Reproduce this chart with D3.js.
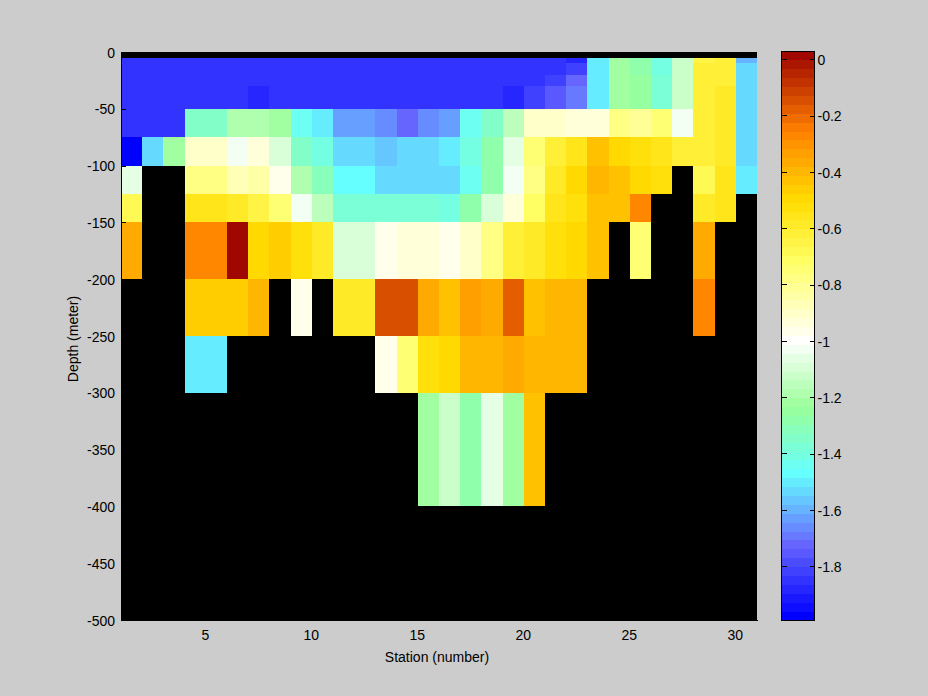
<!DOCTYPE html>
<html><head><meta charset="utf-8">
<script src="https://cdnjs.cloudflare.com/ajax/libs/d3/7.8.5/d3.min.js"></script>
<style>
html,body{margin:0;padding:0;background:#ccc;overflow:hidden}
text{font-family:"Liberation Sans",Arial,sans-serif;font-size:14px;fill:#000}
</style></head><body><svg id="c" width="928" height="696"></svg>
<script>
const N = null;
const depthEdges = [0,5,10,20,30,50,75,100,125,150,200,250,300,400,500];
const stationEdges = d3.range(1,32);
const depthTicks = d3.range(-500,1,50);
const stationTicks = [5,10,15,20,25,30];
const cbarTicks = [0,-0.2,-0.4,-0.6,-0.8,-1,-1.2,-1.4,-1.6,-1.8];
const cLimits = [-1.99,0.03];
const cLevels = 64;
const cStops = [-1.974,-1.721,-1.47,-1.235,-1.0,-0.72,-0.5,-0.25,0.03];
const cColors = ["#0000ff","#6666ff","#66ffff","#99ff99","#ffffff","#ffff66","#ffdc00","#ff8000","#990000"];

const row0 = Array(30).fill(N);
const row5 = [-1.85,-1.85,-1.85,-1.85,-1.85,-1.85,-1.85,-1.85,-1.85,-1.85,-1.85,-1.85,-1.85,-1.85,-1.85,-1.85,-1.85,-1.85,-1.85,-1.85,-1.85,-1.88,-1.49,-1.23,-1.28,-1.41,-1.12,-0.66,-0.63,-1.58];
const row10 = [-1.85,-1.85,-1.85,-1.85,-1.85,-1.85,-1.85,-1.85,-1.85,-1.85,-1.85,-1.85,-1.85,-1.85,-1.85,-1.85,-1.85,-1.85,-1.85,-1.85,-1.85,-1.81,-1.49,-1.22,-1.27,-1.41,-1.12,-0.63,-0.62,-1.53];
const row20 = [-1.85,-1.85,-1.85,-1.85,-1.85,-1.85,-1.85,-1.85,-1.85,-1.85,-1.85,-1.85,-1.85,-1.85,-1.85,-1.85,-1.85,-1.85,-1.85,-1.85,-1.81,-1.72,-1.49,-1.22,-1.25,-1.39,-1.12,-0.63,-0.62,-1.53];
const row30 = [-1.85,-1.85,-1.85,-1.85,-1.85,-1.85,-1.88,-1.85,-1.85,-1.85,-1.85,-1.85,-1.85,-1.85,-1.85,-1.85,-1.85,-1.85,-1.88,-1.81,-1.75,-1.68,-1.49,-1.22,-1.25,-1.39,-1.12,-0.63,-0.6,-1.53];
const row50 = [-1.85,-1.85,-1.85,-1.33,-1.33,-1.17,-1.17,-1.23,-1.43,-1.49,-1.63,-1.63,-1.66,-1.71,-1.66,-1.63,-1.44,-1.34,-1.16,-0.9,-0.9,-0.93,-0.93,-0.77,-0.8,-0.74,-1.02,-0.62,-0.6,-1.53];
const row75 = [-1.98,-1.53,-1.23,-0.89,-0.89,-1.02,-0.92,-1.1,-1.33,-1.41,-1.53,-1.53,-1.57,-1.53,-1.53,-1.49,-1.41,-1.27,-1.06,-0.73,-0.61,-0.54,-0.43,-0.48,-0.51,-0.55,-0.63,-0.63,-0.58,-1.53];
const row100 = [-1.06,N,N,-0.77,-0.77,-0.87,-0.84,-0.98,-1.18,-1.3,-1.47,-1.47,-1.53,-1.53,-1.53,-1.53,-1.44,-1.27,-1.04,-0.77,-0.6,-0.5,-0.39,-0.43,-0.48,-0.51,N,-0.67,-0.54,-1.49];
const row125 = [-0.67,N,N,-0.56,-0.56,-0.6,-0.66,-0.75,-1.02,-1.16,-1.39,-1.39,-1.39,-1.39,-1.36,-1.42,-1.27,-1.1,-0.93,-0.7,-0.55,-0.51,-0.44,-0.44,-0.28,N,N,-0.57,-0.54,N];
const row150 = [-0.36,N,N,-0.28,-0.28,0.02,-0.5,-0.47,-0.52,-0.57,-1.1,-1.1,-0.96,-0.92,-0.92,-0.98,-0.91,-0.79,-0.61,-0.58,-0.51,-0.48,-0.44,N,-0.74,N,N,-0.36,N,N];
const row200 = [N,N,N,-0.47,-0.47,-0.47,-0.39,N,-0.96,N,-0.59,-0.59,-0.13,-0.13,-0.37,-0.43,-0.32,-0.35,-0.17,-0.44,-0.39,-0.39,N,N,N,N,N,-0.28,N,N];
const row250 = [N,N,N,-1.49,-1.49,N,N,N,N,N,N,N,-0.97,-0.74,-0.51,-0.48,-0.39,-0.39,-0.36,-0.39,-0.39,-0.39,N,N,N,N,N,N,N,N];
const row300 = [N,N,N,N,N,N,N,N,N,N,N,N,N,N,-1.23,-1.12,-1.27,-1.06,-1.22,-0.44,N,N,N,N,N,N,N,N,N,N];
const row400 = Array(30).fill(N);
const rows = [row0,row5,row10,row20,row30,row50,row75,row100,row125,row150,row200,row250,row300,row400];

const svg = d3.select("#c");
const x = d3.scaleLinear().domain([1,31]).range([121,757]);
const y = d3.scaleLinear().domain([-500,0]).range([620,52]);
const interp = d3.scaleLinear().domain(cStops).range(cColors).interpolate(d3.interpolateRgb).clamp(true);
const levelWidth = (cLimits[1]-cLimits[0])/cLevels;
const levelColors = d3.range(cLevels).map(i => interp(cLimits[0]+(i+0.5)*levelWidth));
const color = d3.scaleQuantize().domain(cLimits).range(levelColors);
const plain = v => String(v);

svg.append("rect").attr("x",x(1)).attr("y",y(0)).attr("width",x(31)-x(1)).attr("height",y(-500)-y(0)).attr("fill","#000");

const cells = rows.flatMap((r,ri) => r.map((v,ci) => ({v,ci,ri}))).filter(d => d.v !== null);
svg.append("g").attr("shape-rendering","crispEdges").selectAll("rect").data(cells).join("rect")
  .attr("x",d=>x(stationEdges[d.ci]))
  .attr("width",d=>x(stationEdges[d.ci+1])-x(stationEdges[d.ci]))
  .attr("y",d=>y(-depthEdges[d.ri]))
  .attr("height",d=>y(-depthEdges[d.ri+1])-y(-depthEdges[d.ri]))
  .attr("fill",d=>color(d.v));

function style(g){ g.select(".domain").attr("stroke","#000"); g.selectAll("line").attr("stroke","#000"); g.selectAll("text").style("font-size","14px"); g.attr("shape-rendering","crispEdges"); }
svg.append("g").attr("transform",`translate(${x(1)},0)`).call(d3.axisLeft(y).tickValues(depthTicks).tickFormat(plain).tickSize(-5).tickSizeOuter(0)).call(style)
   .call(g=>g.selectAll("text").attr("x",-6).attr("dy","0.36em"));
svg.append("g").attr("transform",`translate(0,${y(-500)})`).call(d3.axisBottom(x).tickValues(stationTicks).tickFormat(plain).tickSize(-5).tickSizeOuter(0)).call(style)
   .call(g=>g.selectAll("text").attr("y",10).attr("dx",-1));

svg.append("text").attr("x",437).attr("y",662).attr("text-anchor","middle").text("Station (number)");
svg.append("text").attr("transform","translate(78,339) rotate(-90)").attr("text-anchor","middle").text("Depth (meter)");

// colorbar
const cb = d3.scaleLinear().domain(cLimits).range([620,51]);
svg.append("g").attr("shape-rendering","crispEdges").selectAll("rect").data(levelColors).join("rect")
  .attr("x",781).attr("width",33)
  .attr("y",(d,i)=>cb(cLimits[0]+(i+1)*levelWidth))
  .attr("height",(d,i)=>cb(cLimits[0]+i*levelWidth)-cb(cLimits[0]+(i+1)*levelWidth)+0.5)
  .attr("fill",d=>d);
svg.append("rect").attr("x",781.5).attr("y",51.5).attr("width",33).attr("height",569).attr("fill","none").attr("stroke","#000").attr("shape-rendering","crispEdges");
const cbAxis = svg.append("g").attr("transform","translate(814.5,0)").call(d3.axisRight(cb).tickValues(cbarTicks).tickFormat(plain).tickSize(-5).tickSizeOuter(0)).call(style);
cbAxis.select(".domain").remove();
cbAxis.selectAll("text").attr("x",3).attr("dy","0.36em");
svg.append("g").attr("transform","translate(781.5,0)").selectAll("line").data(cbarTicks).join("line")
  .attr("x1",0).attr("x2",5).attr("y1",d=>cb(d)).attr("y2",d=>cb(d)).attr("stroke","#000").attr("shape-rendering","crispEdges");
</script></body></html>
